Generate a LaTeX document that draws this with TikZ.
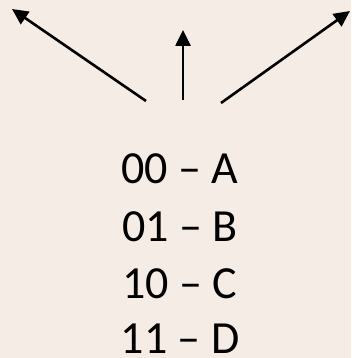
\documentclass[tikz,border=0pt]{standalone}
\usepackage{fontspec}
\setmainfont{Carlito}
\usetikzlibrary{arrows.meta}
\definecolor{paper}{HTML}{F4ECE5}
\tikzset{
  pointer/.style={line width=2.6pt, -{Triangle[length=16pt,width=15pt]}},
  code/.style={anchor=base, inner sep=0pt, font=\fontsize{46}{55}\selectfont}
}
\begin{document}
\begin{tikzpicture}[x=1pt,y=-1pt]
  % page background
  \fill[paper] (0,0) rectangle (351,358);
  \useasboundingbox (0,0) rectangle (351,358);

  % arrow ends
  \coordinate (ls) at (146,101);
  \coordinate (le) at (12,9);
  \coordinate (ms) at (183,100);
  \coordinate (me) at (183,30);
  \coordinate (rs) at (221,103);
  \coordinate (re) at (350,11);

  \draw[pointer] (ls) -- (le);
  \draw[pointer] (ms) -- (me);
  \draw[pointer] (rs) -- (re);

  % code table
  \node[code] (a) at (180,183) {00 – A};
  \node[code] (b) at (180,241) {01 – B};
  \node[code] (c) at (180,298) {10 – C};
  \node[code] (d) at (180,353) {11 – D};
\end{tikzpicture}
\end{document}
